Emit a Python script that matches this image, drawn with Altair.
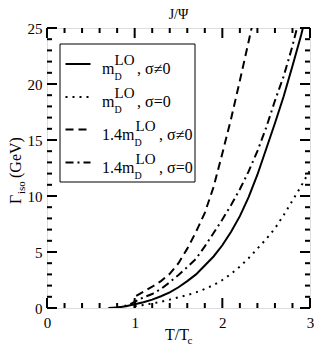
import altair as alt
import pandas as pd

# ---------------- data ----------------
solid_T = [0.70, 0.80, 0.90, 1.00, 1.10, 1.20, 1.30, 1.40, 1.50, 1.60, 1.70, 1.80,
           1.90, 2.00, 2.10, 2.20, 2.30, 2.40, 2.50, 2.60, 2.70, 2.80, 2.90, 2.95]
solid_G = [0.00, 0.04, 0.15, 0.33, 0.52, 0.75, 1.05, 1.40, 1.85, 2.40, 3.00, 3.80,
           4.60, 5.60, 6.80, 8.20, 9.90, 11.90, 14.20, 16.50, 18.90, 21.60, 24.40, 26.00]

dotted_T = [1.0, 1.1, 1.2, 1.3, 1.4, 1.5, 1.6, 1.7, 1.8, 1.9, 2.0, 2.1, 2.2, 2.3,
            2.4, 2.5, 2.6, 2.7, 2.8, 2.9, 3.0]
dotted_G = [0.15, 0.27, 0.40, 0.56, 0.75, 0.95, 1.15, 1.40, 1.70, 2.05, 2.50, 3.05,
            3.70, 4.45, 5.30, 6.15, 7.10, 8.30, 9.60, 10.90, 12.30]

dashed_T = [1.00, 1.00, 1.10, 1.20, 1.30, 1.40, 1.50, 1.60, 1.70, 1.80, 1.90, 2.00,
            2.10, 2.20, 2.30, 2.40]
dashed_G = [0.00, 1.00, 1.45, 1.90, 2.40, 3.05, 4.00, 5.30, 6.80, 8.50, 10.80, 13.80,
            16.90, 20.30, 23.80, 27.30]

dashdot_T = [0.75, 0.85, 0.95, 1.00, 1.10, 1.20, 1.30, 1.40, 1.50, 1.60, 1.70, 1.80,
             1.90, 2.00, 2.10, 2.20, 2.30, 2.40, 2.50, 2.60, 2.70, 2.80, 2.90]
dashdot_G = [0.00, 0.08, 0.35, 0.55, 0.95, 1.25, 1.70, 2.30, 2.95, 3.65, 4.40, 5.50,
             6.70, 7.90, 9.20, 10.60, 12.20, 14.00, 16.10, 18.50, 20.70, 23.40, 26.50]

series_names = ["mLO_s", "mLO_0", "1.4mLO_s", "1.4mLO_0"]
legend_main = ["m", "m", "1.4m", "1.4m"]
legend_sup = ["LO", "LO", "LO", "LO"]
legend_sub = ["D", "D", "D", "D"]
legend_tail = [", σ≠0", ", σ=0", ", σ≠0", ", σ=0"]

title_text = "J/Ψ"
x_title_main, x_title_sub = "T/T", "c"
y_title_main, y_title_sub, y_title_tail = "Γ", "iso", " (GeV)"

x_major = [0, 1, 2, 3]
x_minor = [round(0.2 * i, 1) for i in range(16) if i % 5 != 0]
y_major = [0, 5, 10, 15, 20, 25]
y_minor = [i for i in range(26) if i % 5 != 0]

# ---------------- layout / style ----------------
W, H = 263, 280
FONT = "Liberation Serif, Times New Roman, serif"
dashes = [None, [2, 5], [8, 5], [8, 4, 2, 4]]

xs = alt.Scale(domain=[0, 3], nice=False, zero=False)
ys = alt.Scale(domain=[0, 25], nice=False, zero=False)

rows = []
for name, T, G in zip(series_names, [solid_T, dotted_T, dashed_T, dashdot_T],
                      [solid_G, dotted_G, dashed_G, dashdot_G]):
    for i, (t, g) in enumerate(zip(T, G)):
        rows.append({"series": name, "T": t, "G": g, "i": i})
df = pd.DataFrame(rows)

x_axis = alt.Axis(values=x_major, title=None, domain=False, ticks=False, tickSize=0,
                  grid=False, labelFont=FONT, labelFontSize=15, labelColor="black",
                  labelPadding=7, labelFlush=False, labelOverlap=False, format="d")
y_axis = alt.Axis(values=y_major, title=None, domain=False, ticks=False, tickSize=0,
                  grid=False, labelFont=FONT, labelFontSize=15, labelColor="black",
                  labelPadding=5, labelFlush=False, labelOverlap=False, format="d")

X = lambda: alt.X("T:Q", scale=xs, axis=x_axis)
Y = lambda: alt.Y("G:Q", scale=ys, axis=y_axis)

layers = []
for k, name in enumerate(series_names):
    kw = dict(color="black", strokeWidth=2, clip=True)
    if dashes[k] is not None:
        kw["strokeDash"] = dashes[k]
    layers.append(
        alt.Chart(df).transform_filter(alt.datum.series == name).mark_line(**kw).encode(
            x=X(), y=Y(), order="i:Q")
    )

# inward ticks
def xticks(vals, ln):
    d = pd.DataFrame({"T": vals})
    bot = alt.Chart(d).mark_rule(color="black", strokeWidth=2).encode(
        x=X(), y=alt.value(H), y2=alt.value(H - ln))
    top = alt.Chart(d).mark_rule(color="black", strokeWidth=2).encode(
        x=X(), y=alt.value(0), y2=alt.value(ln))
    return [bot, top]

def yticks(vals, ln):
    d = pd.DataFrame({"G": vals})
    left = alt.Chart(d).mark_rule(color="black", strokeWidth=2).encode(
        y=Y(), x=alt.value(0), x2=alt.value(ln))
    right = alt.Chart(d).mark_rule(color="black", strokeWidth=2).encode(
        y=Y(), x=alt.value(W), x2=alt.value(W - ln))
    return [left, right]

tick_layers = xticks(x_major, 10) + xticks(x_minor, 5) + yticks(y_major, 10) + yticks(y_minor, 5)

# legend box
one = pd.DataFrame({"a": [0]})
legend_box = alt.Chart(one).mark_rect(fill="white", stroke="black", strokeWidth=1).encode(
    x=alt.value(13), x2=alt.value(148), y=alt.value(16), y2=alt.value(154))

row_y = [36, 69, 101.5, 134.5]
legend_lines = []
for k in range(4):
    kw = dict(color="black", strokeWidth=2)
    if dashes[k] is not None:
        kw["strokeDash"] = dashes[k]
    legend_lines.append(alt.Chart(one).mark_rule(**kw).encode(
        x=alt.value(18.5), x2=alt.value(43.5), y=alt.value(row_y[k])))

# text pieces (plot-relative pixel positions)
texts = []
for k in range(4):
    b = row_y[k] + 10
    if k < 2:
        xd, xs_, xt = 67.5, 67.5, 90
    else:
        xd, xs_, xt = 87.5, 88.5, 112
    texts.append({"t": legend_main[k], "px": 55, "py": b, "fs": 16})
    texts.append({"t": legend_sub[k], "px": xd, "py": b + 6, "fs": 10})
    texts.append({"t": legend_sup[k], "px": xs_, "py": b - 9, "fs": 15})
    texts.append({"t": legend_tail[k], "px": xt, "py": b, "fs": 16})
texts.append({"t": x_title_main, "px": 118, "py": 312, "fs": 16})
texts.append({"t": x_title_sub, "px": 140.5, "py": 316, "fs": 11})
tdf = pd.DataFrame(texts)
text_layer = alt.Chart(tdf).mark_text(align="left", baseline="alphabetic", font=FONT,
                                      color="black").encode(
    x=alt.X("px:Q", scale=None), y=alt.Y("py:Q", scale=None),
    size=alt.Size("fs:Q", scale=None, legend=None), text="t:N")

title_layer = alt.Chart(one).mark_text(align="center", baseline="alphabetic", font=FONT,
                                       fontSize=14, color="black").encode(
    x=alt.value(W / 2), y=alt.value(-9), text=alt.value(title_text))

ytexts = pd.DataFrame([
    {"t": y_title_main, "px": -26, "py": 176, "fs": 16},
    {"t": y_title_sub, "px": -22, "py": 166, "fs": 11},
    {"t": y_title_tail, "px": -26, "py": 150, "fs": 16},
])
ytitle_layer = alt.Chart(ytexts).mark_text(align="left", baseline="alphabetic", font=FONT,
                                           color="black", angle=270).encode(
    x=alt.X("px:Q", scale=None), y=alt.Y("py:Q", scale=None),
    size=alt.Size("fs:Q", scale=None, legend=None), text="t:N")

chart = alt.layer(*layers, *tick_layers, legend_box, *legend_lines, text_layer,
                  title_layer, ytitle_layer).properties(
    width=W, height=H,
    autosize=alt.AutoSizeParams(type="none"),
    padding={"left": 39, "top": 20, "right": 4, "bottom": 38},
).configure_view(stroke="black", strokeWidth=2).configure(background="white")

chart.save("out.html", embed_options={"renderer": "svg", "actions": False})
